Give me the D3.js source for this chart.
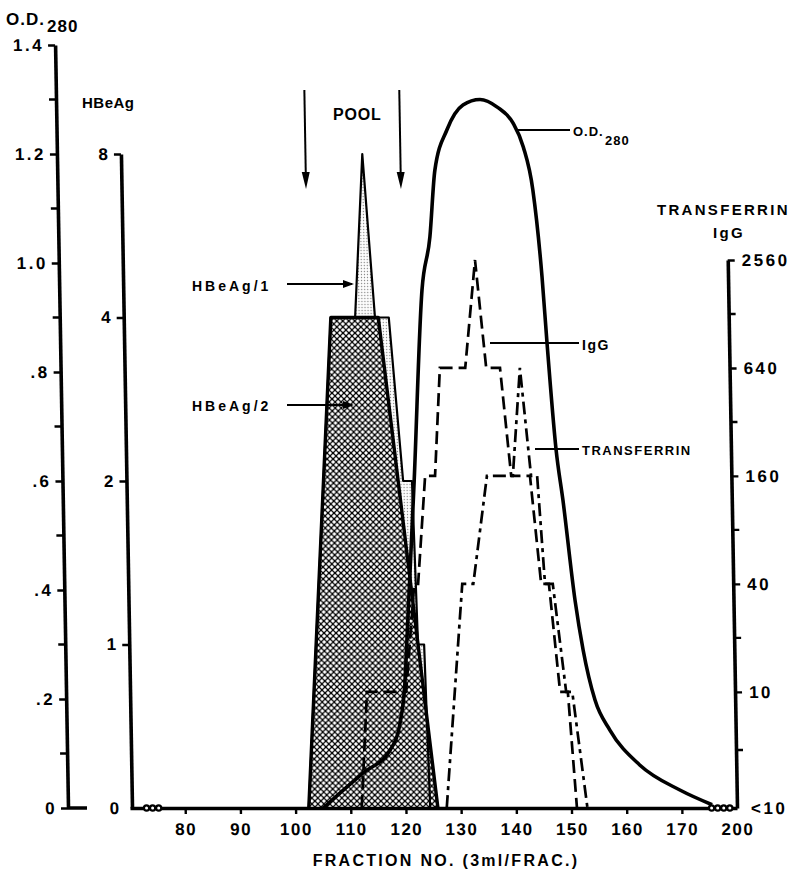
<!DOCTYPE html>
<html>
<head>
<meta charset="utf-8">
<script src="https://cdn.jsdelivr.net/npm/d3@7"></script>
<style>
  body { margin: 0; background: #fff; }
  svg text { font-family: "Liberation Sans", Arial, sans-serif; font-weight: bold; fill: #000; }
</style>
</head>
<body>
<svg id="chart" width="801" height="870"></svg>
<script>
// ---- data ----
const LT10 = 2.25; // the "<10" level on the titer axis

const odFractions = [105, 112.3, 117.3, 119.2, 120.2, 120.7, 122.5, 124.5, 126.1, 127.2, 129.5, 132.5, 135.6,
    138.7, 141.5, 143.3, 144.9, 146.3, 147.0, 148.3, 149.4, 151.3, 152.6, 154.6, 157.2, 162.5, 169.7, 175.5];
const odValues = [0, 0.064, 0.106, 0.156, 0.229, 0.308, 0.60, 0.95, 1.048, 1.17, 1.244, 1.29, 1.30,
    1.286, 1.257, 1.213, 1.134, 0.974, 0.853, 0.659, 0.565, 0.38, 0.29, 0.198, 0.143, 0.079, 0.033, 0.006];

const hbeag1Fractions = [102.4, 107.9, 112.3, 114.1, 115.9, 118.4, 120.5, 122.1, 122.7, 123.8, 124.4];
const hbeag1Values = [0.5, 4, 4, 8, 4, 4, 2, 2, 1, 1, 0.5];

const hbeag2Fractions = [102.4, 107.9, 116.5, 125.8];
const hbeag2Values = [0.5, 4, 4, 0.5];

const iggFractions = [112.0, 113.3, 120.4, 122.2, 122.9, 124.5, 126.3, 127.5, 132.1, 134.2, 135.9, 138.4,
    140.1, 143.5, 145.2, 146.6, 148.3, 149.7, 151.0];
const iggTiters = [LT10, 10, 10, 40, 40, 160, 160, 640, 640, 2560, 640, 640, 160, 160, 40, 40, 10, 10, LT10];

const transferrinFractions = [127.4, 130.9, 132.9, 135.7, 140.4, 142.0, 143.7, 144.8, 145.9, 147.3, 149.4, 150.5, 152.9];
const transferrinTiters = [LT10, 40, 40, 160, 160, 640, 160, 160, 40, 40, 10, 10, LT10];

const poolBounds = [103.8, 121.0];

const fractionTicks = [80, 90, 100, 110, 120, 130, 140, 150, 160, 170, 180];
const fractionTickLabels = ["80", "90", "100", "110", "120", "130", "140", "150", "160", "170", "200"];
const leftBreaks = [73.0, 74.1, 75.2];
const rightBreaks = [175.4, 176.5, 177.6, 178.7];

const odTicks = [0, 0.2, 0.4, 0.6, 0.8, 1.0, 1.2, 1.4];
const odTickLabels = ["0", ".2", ".4", ".6", ".8", "1.0", "1.2", "1.4"];
const odMinorTicks = [0.1, 0.3, 0.5, 0.7, 0.9, 1.1, 1.3];

const hbeagTicks = [0.5, 1, 2, 4, 8];
const hbeagTickLabels = ["0", "1", "2", "4", "8"];

const titerTicks = [LT10, 10, 40, 160, 640, 2560];
const titerTickLabels = ["<10", "10", "40", "160", "640", "2560"];
const titerMinorTicks = [4.74, 20, 80, 320, 1280];

// ---- layout ----
const svg = d3.select('#chart');
const base = 808;
const skewDeg = 0.97; // the printed figure leans slightly

const x = d3.scaleLinear().domain([70, 180]).range([130, 737]);
const yOD = d3.scaleLinear().domain([0, 1.4]).range([base, 45]);
const yHB = d3.scaleLog().base(2).domain([0.5, 8]).range([base, 154]);
const yTiter = d3.scaleLog().base(4).domain([LT10, 2560]).range([base, 260]);

const odAxisX = 68;
const hbAxisX = 132;
const titerAxisX = x(180);

// patterns
const defs = svg.append('defs');
const hatch = defs.append('pattern').attr('id', 'xhatch')
    .attr('patternUnits', 'userSpaceOnUse').attr('width', 6).attr('height', 6);
hatch.append('rect').attr('width', 6).attr('height', 6).attr('fill', '#fff');
hatch.append('path').attr('d', 'M0,0L6,6M6,0L0,6').attr('stroke', '#000').attr('stroke-width', 1.3);
hatch.append('rect').attr('x', 2).attr('y', 2).attr('width', 2).attr('height', 2).attr('fill', '#000');

const dots = defs.append('pattern').attr('id', 'stipple')
    .attr('patternUnits', 'userSpaceOnUse').attr('width', 3).attr('height', 3);
dots.append('rect').attr('width', 3).attr('height', 3).attr('fill', '#fff');
dots.append('circle').attr('cx', 1.5).attr('cy', 1.5).attr('r', 0.7).attr('fill', '#777');

const plot = svg.append('g')
    .attr('transform', `translate(0,${base}) skewX(${skewDeg}) translate(0,${-base})`);

// HBeAg areas
const hbLine = d3.line().x(d => x(d[0])).y(d => yHB(d[1]));
const hb1 = d3.zip(hbeag1Fractions, hbeag1Values);
const hb2 = d3.zip(hbeag2Fractions, hbeag2Values);

plot.append('path').attr('d', hbLine(hb1) + 'Z').attr('fill', 'url(#stipple)');
plot.append('path').attr('d', hbLine(hb2) + 'Z').attr('fill', 'url(#xhatch)');
plot.append('path').attr('d', hbLine(hb1)).attr('fill', 'none')
    .attr('stroke', '#000').attr('stroke-width', 2.2).attr('stroke-linejoin', 'round');
plot.append('path').attr('d', hbLine(hb2)).attr('fill', 'none')
    .attr('stroke', '#000').attr('stroke-width', 3.4).attr('stroke-linejoin', 'round');

// O.D. 280 curve
const odLine = d3.line().x(d => x(d[0])).y(d => yOD(d[1])).curve(d3.curveMonotoneX);
plot.append('path').attr('d', odLine(d3.zip(odFractions, odValues)))
    .attr('fill', 'none').attr('stroke', '#000').attr('stroke-width', 3.6);

// titers
const titerLine = d3.line().x(d => x(d[0])).y(d => yTiter(d[1]));
plot.append('path').attr('d', titerLine(d3.zip(iggFractions, iggTiters)))
    .attr('fill', 'none').attr('stroke', '#000').attr('stroke-width', 2.7)
    .attr('stroke-dasharray', '13,6');
plot.append('path').attr('d', titerLine(d3.zip(transferrinFractions, transferrinTiters)))
    .attr('fill', 'none').attr('stroke', '#000').attr('stroke-width', 2.7)
    .attr('stroke-dasharray', '13,5,4,5');

// axes
function styleAxis(g, size, spacing) {
    g.select('.domain').attr('stroke-width', 3.6);
    g.selectAll('.tick line').attr('stroke-width', 2.4);
    g.selectAll('.tick text').style('font-size', size + 'px').style('letter-spacing', spacing + 'px');
}

const xAxis = plot.append('g').attr('transform', `translate(0,${base})`)
    .call(d3.axisBottom(x).tickValues(fractionTicks)
        .tickFormat((d, i) => fractionTickLabels[i]).tickSize(6).tickSizeOuter(0).tickPadding(9));
styleAxis(xAxis, 17, 1.5);
xAxis.select('.tick:last-child line').remove();

const odAxis = plot.append('g').attr('transform', `translate(${odAxisX},0)`)
    .call(d3.axisLeft(yOD).tickValues(odTicks)
        .tickFormat((d, i) => odTickLabels[i]).tickSize(7).tickSizeOuter(0).tickPadding(4));
styleAxis(odAxis, 17, 2.5);
odAxis.selectAll('.minor').data(odMinorTicks).enter().append('line')
    .attr('x1', -7).attr('x2', 0).attr('y1', d => yOD(d)).attr('y2', d => yOD(d))
    .attr('stroke', '#000').attr('stroke-width', 2.4);
plot.append('line').attr('x1', odAxisX).attr('x2', odAxisX + 19)
    .attr('y1', yOD(0)).attr('y2', yOD(0)).attr('stroke', '#000').attr('stroke-width', 3.6);

const hbAxis = plot.append('g').attr('transform', `translate(${hbAxisX},0)`)
    .call(d3.axisLeft(yHB).tickValues(hbeagTicks)
        .tickFormat((d, i) => hbeagTickLabels[i]).tickSize(7).tickSizeOuter(0).tickPadding(6));
styleAxis(hbAxis, 17, 0);
hbAxis.select('.tick line').remove();

const titerAxis = plot.append('g').attr('transform', `translate(${titerAxisX},0)`)
    .call(d3.axisRight(yTiter).tickValues(titerTicks)
        .tickFormat((d, i) => titerTickLabels[i]).tickSize(7).tickSizeOuter(0).tickPadding(7));
styleAxis(titerAxis, 17, 2.5);
titerAxis.select('.tick line').remove();
titerAxis.selectAll('.minor').data(titerMinorTicks).enter().append('line')
    .attr('x1', 0).attr('x2', 7).attr('y1', d => yTiter(d)).attr('y2', d => yTiter(d))
    .attr('stroke', '#000').attr('stroke-width', 2.4);

// axis breaks
plot.selectAll('.brk').data(leftBreaks.concat(rightBreaks)).enter().append('circle')
    .attr('cx', d => x(d)).attr('cy', base).attr('r', 2.6)
    .attr('fill', '#fff').attr('stroke', '#000').attr('stroke-width', 2.2);

// pool arrows
poolBounds.forEach(f => {
    const ax = x(f);
    plot.append('line').attr('x1', ax).attr('x2', ax).attr('y1', 90).attr('y2', 176)
        .attr('stroke', '#000').attr('stroke-width', 2);
    plot.append('path').attr('d', `M${ax - 4},172L${ax + 4},172L${ax},189Z`).attr('fill', '#000');
});

// ---- text labels ----
function label(txt, lx, ly, size, spacing, anchor) {
    return svg.append('text').attr('x', lx).attr('y', ly).attr('text-anchor', anchor || 'start')
        .style('font-size', size + 'px').style('letter-spacing', (spacing || 0) + 'px').text(txt);
}

label('O.D.', 6, 25, 17, 1);
label('280', 47, 32, 17, 1);
label('HBeAg', 82, 108, 15, 0.5);
label('TRANSFERRIN', 657, 215, 15, 2.3);
label('IgG', 713, 238, 15, 2.3);
label('POOL', 333, 120, 16, 0.8);
label('FRACTION NO. (3ml/FRAC.)', 446, 866, 16, 2.3, 'middle');

label('HBeAg/1', 192, 291, 14, 3);
label('HBeAg/2', 192, 411, 14, 3);
label('IgG', 582, 350, 14, 1.5);
label('TRANSFERRIN', 582, 455, 13, 1.5);
label('O.D.', 573, 136, 13, 1);
label('280', 605, 145, 13, 1);

const pointers = [
    [287, 284, 352, true], [287, 405, 352, true],
    [490, 343, 579, false], [535, 449, 579, false], [517, 130, 570, false]
];
pointers.forEach(p => {
    svg.append('line').attr('x1', p[0]).attr('x2', p[2]).attr('y1', p[1]).attr('y2', p[1])
        .attr('stroke', '#000').attr('stroke-width', 1.8);
    if (p[3]) {
        svg.append('path').attr('d', `M${p[2] + 2},${p[1]}L${p[2] - 9},${p[1] - 4}L${p[2] - 9},${p[1] + 4}Z`)
            .attr('fill', '#000');
    }
});
</script>
</body>
</html>
